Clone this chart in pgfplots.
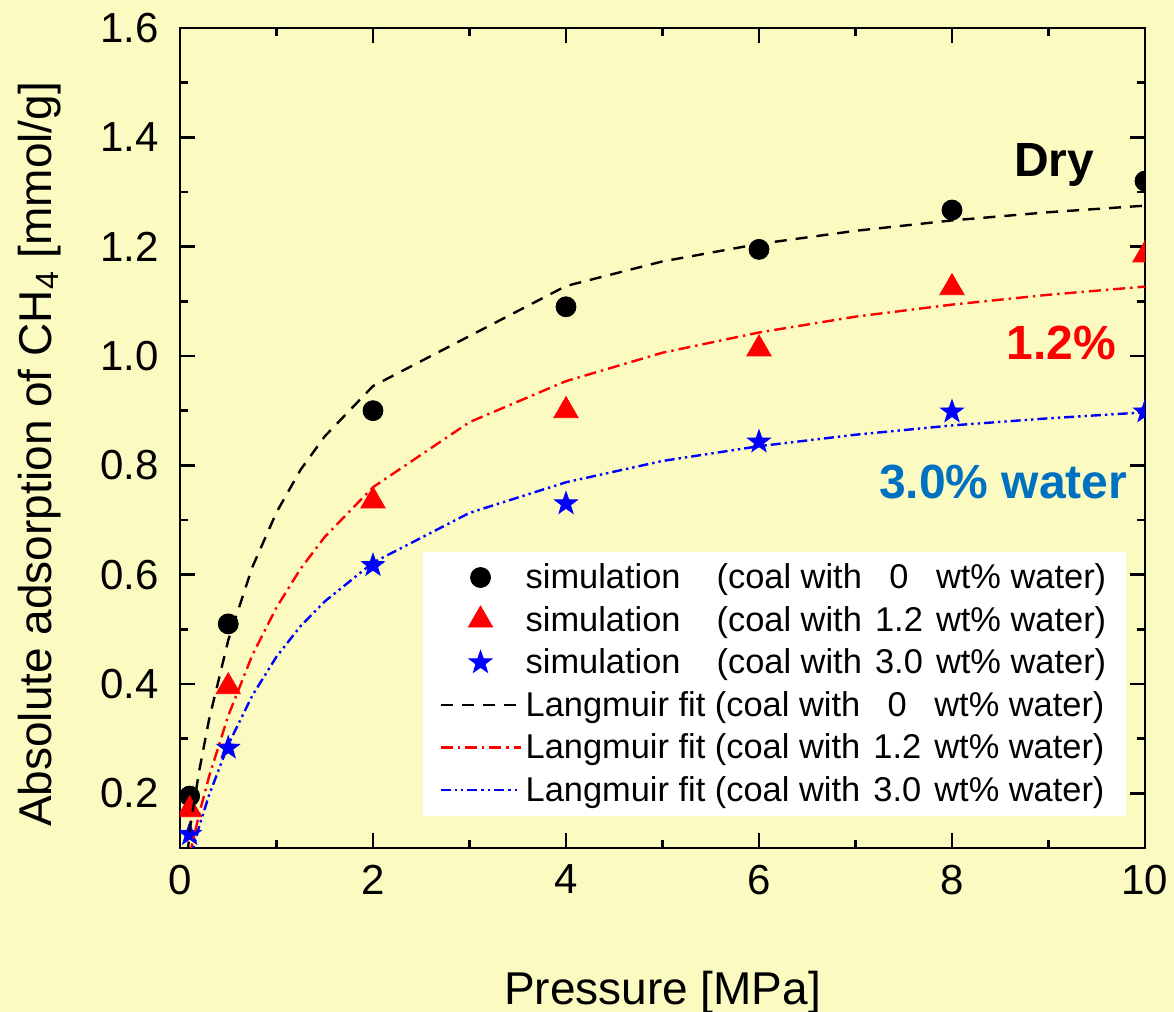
\documentclass[border=0pt]{standalone}
\usepackage{fontspec}
\setmainfont{Liberation Sans}
\usepackage{pgfplots}
\pgfplotsset{compat=1.18}
\definecolor{bgc}{RGB}{250,250,193}
\definecolor{lblue}{RGB}{0,112,192}
\pgfdeclareplotmark{fstar}{%
  \pgfpathmoveto{\pgfqpointpolar{90}{\pgfplotmarksize}}%
  \pgfpathlineto{\pgfqpointpolar{126}{0.4\pgfplotmarksize}}%
  \pgfpathlineto{\pgfqpointpolar{162}{\pgfplotmarksize}}%
  \pgfpathlineto{\pgfqpointpolar{198}{0.4\pgfplotmarksize}}%
  \pgfpathlineto{\pgfqpointpolar{234}{\pgfplotmarksize}}%
  \pgfpathlineto{\pgfqpointpolar{270}{0.4\pgfplotmarksize}}%
  \pgfpathlineto{\pgfqpointpolar{306}{\pgfplotmarksize}}%
  \pgfpathlineto{\pgfqpointpolar{342}{0.4\pgfplotmarksize}}%
  \pgfpathlineto{\pgfqpointpolar{18}{\pgfplotmarksize}}%
  \pgfpathlineto{\pgfqpointpolar{54}{0.4\pgfplotmarksize}}%
  \pgfpathclose\pgfusepathqfillstroke}
\begin{document}
\begin{tikzpicture}
\fill[bgc] (-90pt,-82pt) rectangle (497pt,424pt);
\begin{axis}[
  at={(0pt,0pt)}, anchor=south west, scale only axis,
  width=482.5pt, height=410pt,
  xmin=0, xmax=10, ymin=0.1, ymax=1.6,
  xtick={0,2,4,6,8,10}, ytick={0.2,0.4,0.6,0.8,1.0,1.2,1.4,1.6},
  minor x tick num=1, minor y tick num=1,
  tick align=inside, tick pos=both,
  major tick length=7.5pt, minor tick length=4pt,
  axis line style={line width=1.3pt},
  every tick/.style={black, line width=1.2pt},
  /pgf/number format/assume math mode=true,
  ticklabel style={font=\fontsize{21}{25}\selectfont},
  yticklabel style={xshift=-7pt, /pgf/number format/.cd, fixed, fixed zerofill, precision=1},
  xticklabel style={yshift=-5pt},
  xlabel={Pressure [MPa]},
  ylabel={Absolute adsorption of CH\textsubscript{4} [mmol/g]},
  label style={font=\fontsize{23}{27}\selectfont},
  xlabel style={at={(axis description cs:0.5,0)}, anchor=north, yshift=-58pt},
  ylabel style={at={(axis description cs:-0.116,0.48)}, anchor=south},
  clip marker paths=true,
  legend style={at={(rel axis cs:0.981,0.362)}, anchor=north east, draw=none, fill=white,
    font=\fontsize{17.2}{20}\selectfont, inner xsep=8pt, inner ysep=4pt,
    /tikz/every even column/.append style={column sep=2pt},
    row sep=3.3pt},
  legend cell align=left,
  legend image code/.code={\draw[mark repeat=2,mark phase=2,#1] plot coordinates {(0pt,0pt) (20pt,0pt) (40pt,0pt)};},
]
\addplot[only marks, mark=*, mark size=5pt, black] coordinates {
 (0.1,0.195) (0.5,0.51) (2,0.90) (4,1.09) (6,1.195) (8,1.267) (10,1.32)};
\addlegendentry{simulation\hspace{1.05em}(coal with \makebox[1.6em][c]{0} wt\% water)}
\addplot[only marks, mark=triangle*, mark size=7pt, red] coordinates {
 (0.1,0.17) (0.5,0.395) (2,0.735) (4,0.90) (6,1.013) (8,1.125) (10,1.185)};
\addlegendentry{simulation\hspace{1.05em}(coal with \makebox[1.6em][c]{1.2} wt\% water)}
\addplot[only marks, mark=fstar, mark size=6pt, blue] coordinates {
 (0.1,0.125) (0.5,0.283) (2,0.617) (4,0.73) (6,0.843) (8,0.898) (10,0.898)};
\addlegendentry{simulation\hspace{1.05em}(coal with \makebox[1.6em][c]{3.0} wt\% water)}
\addplot[black, line width=1.2pt, dash pattern=on 6pt off 4.5pt, no markers] coordinates {
 (0.08,0.09) (0.1,0.132) (0.2,0.242) (0.3,0.334) (0.5,0.480) (0.75,0.614) (1,0.714)
 (1.25,0.792) (1.5,0.853) (2,0.945) (4,1.128) (5,1.173) (6,1.205) (7,1.229) (8,1.248) (9,1.263) (10,1.275)};
\addlegendentry{Langmuir fit (coal with \makebox[1.6em][c]{0} wt\% water)}
\addplot[red, line width=1.2pt, dash pattern=on 6pt off 2.5pt on 1.2pt off 2.5pt, no markers] coordinates {
 (0.1,0.087) (0.2,0.163) (0.3,0.230) (0.5,0.342) (0.75,0.453) (1,0.540) (1.25,0.611)
 (1.5,0.669) (2,0.760) (3,0.879) (4,0.954) (5,1.006) (6,1.043) (7,1.072) (8,1.094) (9,1.112) (10,1.127)};
\addlegendentry{Langmuir fit (coal with \makebox[1.6em][c]{1.2} wt\% water)}
\addplot[blue, line width=1.2pt, dash pattern=on 5pt off 2pt on 1.2pt off 2pt on 1.2pt off 2pt, no markers] coordinates {
 (0.1,0.075) (0.2,0.140) (0.3,0.196) (0.5,0.289) (0.75,0.379) (1,0.450) (1.25,0.506)
 (1.5,0.551) (2,0.622) (3,0.713) (4,0.769) (5,0.808) (6,0.835) (7,0.856) (8,0.873) (9,0.886) (10,0.897)};
\addlegendentry{Langmuir fit (coal with \makebox[1.6em][c]{3.0} wt\% water)}
\node[font=\bfseries\fontsize{24}{28}\selectfont, black] at (axis cs:9.06,1.35) {Dry};
\node[font=\bfseries\fontsize{24}{28}\selectfont, red] at (axis cs:9.13,1.024) {1.2\%};
\node[font=\bfseries\fontsize{24}{28}\selectfont, lblue] at (axis cs:8.53,0.77) {3.0\% water};
\end{axis}
\pgfresetboundingbox
\useasboundingbox (-90pt,-82pt) rectangle (497pt,424pt);
\end{tikzpicture}
\end{document}
